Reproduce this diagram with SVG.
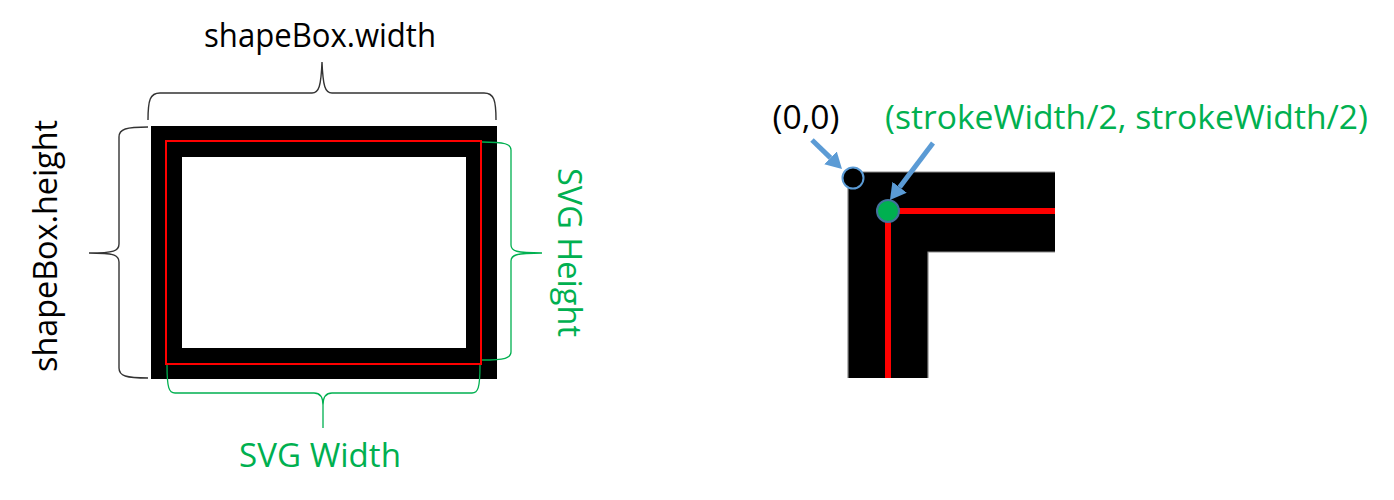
<svg xmlns="http://www.w3.org/2000/svg" width="1394" height="500" viewBox="0 0 1394 500">
<style>
.lbl{font-family:"Open Sans","Liberation Sans",sans-serif;font-size:32px}
.blk{fill:#000}
.grn{fill:#00B050}
.brB{fill:none;stroke:#333;stroke-width:1.4}
.brG{fill:none;stroke:#00B050;stroke-width:1.3}
.arr{stroke:#5B9BD5;stroke-width:5;fill:none}
</style>
<defs>
<marker id="ah" markerUnits="userSpaceOnUse" markerWidth="18" markerHeight="18" refX="0" refY="9" orient="auto">
<path d="M0,0 L16,9 L0,18 Z" fill="#5B9BD5"/>
</marker>
</defs>
<rect width="1394" height="500" fill="#fff"/>

<g id="shape-box">
<rect x="166.5" y="141.5" width="315" height="222" fill="none" stroke="#000" stroke-width="31"/>
<rect x="166" y="141" width="315" height="223" fill="none" stroke="#FF0000" stroke-width="2"/>
</g>

<g id="brace-width">
<path class="brB" d="M148,120 C148,100 150,93 160,93 L312,93 C319,93 321,86 322,62 C323,86 325,93 332,93 L484,93 C494,93 496,100 496,120"/>
<text class="lbl blk" x="320" y="47" text-anchor="middle" textLength="232" lengthAdjust="spacingAndGlyphs">shapeBox.width</text>
</g>

<g id="brace-height">
<path class="brB" d="M148,127 C126,127 119,129 119,137 L119,244 C119,251 114,253 89,253 C114,253 119,255 119,262 L119,368 C119,376 126,378 148,378"/>
<text class="lbl blk" transform="translate(57,246) rotate(-90)" x="0" y="0" text-anchor="middle" textLength="252" lengthAdjust="spacingAndGlyphs">shapeBox.height</text>
</g>

<g id="brace-svg-height">
<path class="brG" d="M482,142 C505,142 511,144 511,150 L511,245 C511,251 516,253 542,253 C516,253 511,255 511,261 L511,352 C511,358 505,360 482,360"/>
<text class="lbl grn" transform="translate(558,252.5) rotate(90)" x="0" y="0" text-anchor="middle" textLength="169" lengthAdjust="spacingAndGlyphs">SVG Height</text>
</g>

<g id="brace-svg-width">
<path class="brG" d="M167,365 C167,388 169,393 175,393 L314,393 C320,393 323,397 323,405 L323,428 M323,405 C323,397 326,393 332,393 L472,393 C478,393 480,388 480,365"/>
<text class="lbl grn" x="320" y="467" text-anchor="middle" textLength="162" lengthAdjust="spacingAndGlyphs">SVG Width</text>
</g>

<g id="corner-detail">
<path d="M848,378 L848,172 L1055,172 L1055,252 L928,252 L928,378 Z" fill="#000"/>
<path d="M848,378 L848,172 L1055,172 M1055,252 L928,252 L928,378" fill="none" stroke="#8a8a8a" stroke-width="1.2"/>
<path d="M888,378 L888,211 L1055,211" fill="none" stroke="#FF0000" stroke-width="6"/>
</g>

<g id="origin-point">
<circle cx="853" cy="178" r="10.5" fill="#000" stroke="#5B9BD5" stroke-width="2"/>
<text class="lbl blk" x="806" y="129" text-anchor="middle" textLength="67" lengthAdjust="spacingAndGlyphs">(0,0)</text>
</g>

<g id="half-stroke-point">
<circle cx="888" cy="211" r="11" fill="#00B050" stroke="#41719C" stroke-width="2"/>
<text class="lbl grn" x="885" y="129" textLength="483" lengthAdjust="spacingAndGlyphs">(strokeWidth/2, strokeWidth/2)</text>
</g>

<g id="connectors">
<line class="arr" x1="812" y1="140" x2="830.5" y2="157.9" marker-end="url(#ah)"/>
<line class="arr" x1="933" y1="143" x2="899.6" y2="187.2" marker-end="url(#ah)"/>
</g>
</svg>
